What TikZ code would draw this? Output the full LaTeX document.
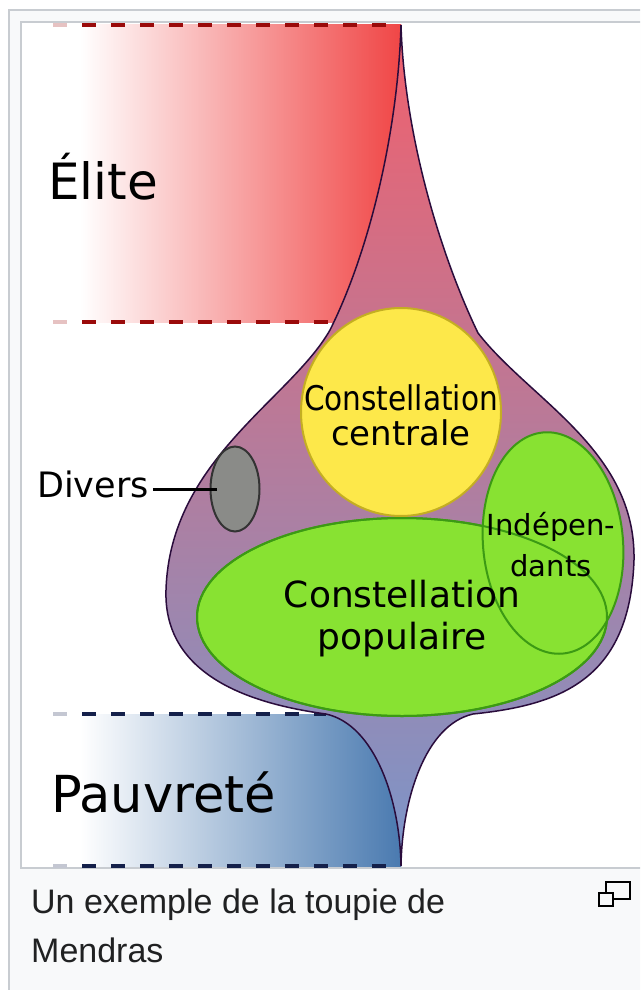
\documentclass[tikz,border=0pt]{standalone}
\usepackage{fontspec}
\setmainfont{DejaVu Sans}
\newfontfamily\serre{DejaVu Sans}[FakeStretch=0.87]
\newfontfamily\legende{Liberation Sans}
\usetikzlibrary{shapes.geometric}

\definecolor{cadre}{HTML}{C8CCD1}
\definecolor{fondlegende}{HTML}{F8F9FA}
\definecolor{textelegende}{HTML}{202122}
\definecolor{rougeelite}{HTML}{F04646}
\definecolor{bleupauv}{HTML}{4A7AB0}
\definecolor{tiretrouge}{HTML}{9A0A0A}
\definecolor{tiretbleu}{HTML}{14204A}
\definecolor{hautpente}{HTML}{F2606C}
\definecolor{milieupente}{HTML}{B27B9B}
\definecolor{baspente}{HTML}{7A96CA}
\definecolor{contour}{HTML}{2A0C3C}
\definecolor{jaune}{HTML}{FDE84A}
\definecolor{bordjaune}{HTML}{C4AE22}
\definecolor{vert}{HTML}{88E232}
\definecolor{bordvert}{HTML}{3C9A14}
\definecolor{gris}{HTML}{8A8B88}

\tikzset{
	tiret/.style={line width=4pt, dash pattern=on 14pt off 15pt},
	groupe/.style={ellipse, line width=2pt, inner sep=0pt},
	etiquette/.style={inner sep=0pt, align=center, text=black},
}

\begin{document}
\begin{tikzpicture}[x=1pt, y=-1pt]
	\clip (0,0) rectangle (640,990);
	% vignette et cadre de l'image
	\filldraw[fill=fondlegende, draw=cadre, line width=2pt] (9,10) rectangle (680,1020);
	\filldraw[fill=white, draw=cadre, line width=1.5pt] (21,22) rectangle (680,868);

	% bandes elite / pauvrete
	\shade[left color=white, right color=rougeelite] (80,25) rectangle (401,322);
	\shade[left color=white, right color=bleupauv] (80,714) rectangle (401,866);

	\draw[tiret, tiretrouge!25] (53,25) -- (67,25);
	\draw[tiret, tiretrouge]    (82,25) -- (401,25);
	\draw[tiret, tiretrouge!25] (53,322) -- (67,322);
	\draw[tiret, tiretrouge]    (82,322) -- (330,322);
	\draw[tiret, tiretbleu!25]  (53,714) -- (67,714);
	\draw[tiret, tiretbleu]     (82,714) -- (326,714);
	\draw[tiret, tiretbleu!25]  (53,866) -- (67,866);
	\draw[tiret, tiretbleu]     (82,866) -- (401,866);

	% la toupie
	\draw[contour, line width=1.5pt, top color=hautpente, middle color=milieupente, bottom color=baspente]
		(401,25) .. controls (398,130) and (370,250) .. (330,330)
		.. controls (290,400) and (170,460) .. (166,590)
		.. controls (163,680) and (260,705) .. (326,714)
		.. controls (375,725) and (400,800) .. (401,866)
		.. controls (402,800) and (425,725) .. (473,714)
		.. controls (560,705) and (630,680) .. (634,560)
		.. controls (636,450) and (530,400) .. (478,333)
		.. controls (438,250) and (404,130) .. (401,25) -- cycle;

	\node[groupe, fill=jaune, draw=bordjaune, minimum width=200pt, minimum height=208pt] (centrale) at (401,412) {};
	\node[groupe, fill=vert, draw=bordvert, minimum width=410pt, minimum height=198pt] (populaire) at (402,617) {};
	\node[groupe, fill=vert, draw=bordvert, minimum width=140pt, minimum height=222pt, rotate=5] (independants) at (553,543) {};
	\node[groupe, draw=bordvert, minimum width=410pt, minimum height=198pt] (populaire-bord) at (populaire) {};
	\node[groupe, fill=gris, draw=black!80, minimum width=49pt, minimum height=85pt] (tache) at (235,489) {};

	% textes
	\node[etiquette, anchor=base west, font=\fontsize{50}{60}\selectfont] (elite) at (48,199) {Élite};
	\node[etiquette, anchor=base west, font=\fontsize{51}{60}\selectfont] (pauvrete) at (51,812) {Pauvreté};
	\node[etiquette, anchor=base west, inner xsep=4pt, font=\fontsize{35}{40}\selectfont] (divers) at (33,497) {Divers};
	\draw[line width=3pt] (divers.east |- tache.west) -- ([xshift=7pt]tache.west);

	\node[etiquette, font=\fontsize{34}{35}\selectfont] (centrale-texte) at (401,415) {{\serre Constellation}\\centrale};
	\node[etiquette, font=\fontsize{36}{42}\selectfont] (populaire-texte) at (402,619) {Constellation\\populaire};
	\node[etiquette, font=\fontsize{29}{41}\selectfont] (independants-texte) at (551,545) {Indépen-\\dants};

	% legende
	\node[anchor=base west, inner sep=0pt, text=textelegende, font=\legende\fontsize{34}{40}\selectfont] (legende) at (31,913) {Un exemple de la toupie de};
	\node[anchor=base west, inner sep=0pt, text=textelegende, font=\legende\fontsize{34}{40}\selectfont] (legende-suite) at (31,962) {Mendras};
	\draw[line width=2.5pt] (606,882) rectangle (630,899);
	\filldraw[fill=fondlegende, draw=black, line width=2.5pt] (599,893) rectangle (613,906);
\end{tikzpicture}
\end{document}
